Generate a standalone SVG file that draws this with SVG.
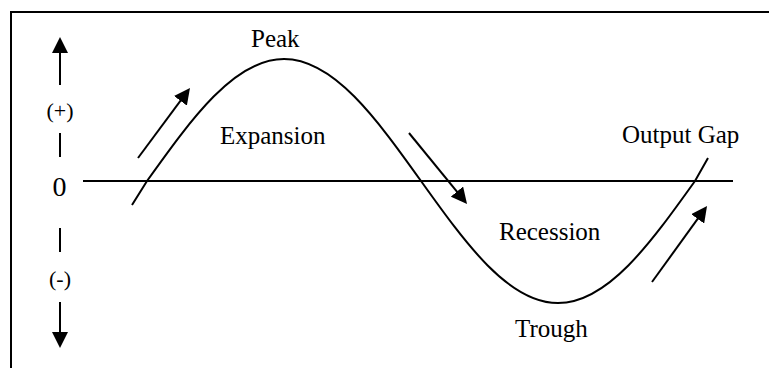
<svg xmlns="http://www.w3.org/2000/svg" width="769" height="368" viewBox="0 0 769 368">
<style>
.ln{fill:none;stroke:#000;stroke-width:2}
text{font-family:'Liberation Serif','Times New Roman',Tinos,'DejaVu Serif',serif;fill:#000}
.t{font-size:25px}
.s{font-size:22px}
</style>
<defs>
<marker id="ah" viewBox="0 0 16 16" markerWidth="16" markerHeight="16" markerUnits="userSpaceOnUse" refX="12" refY="8" orient="auto">
<path d="M0,0 L16,8 L0,16 z" fill="#000"/>
</marker>
</defs>
<rect width="769" height="368" fill="#fff"/>
<g id="frame">
<path class="ln" d="M11,368 V12 H769"/>
</g>
<g id="axis">
<line class="ln" x1="83" y1="181" x2="733" y2="181"/>
<text x="59.5" y="196" text-anchor="middle" font-family="Liberation Serif, serif" font-size="28">0</text>
<text class="s" x="60" y="118" text-anchor="middle" font-family="Liberation Serif, serif">(+)</text>
<text class="s" x="60" y="286" text-anchor="middle" font-family="Liberation Serif, serif">(-)</text>
<line class="ln" x1="60" y1="133" x2="60" y2="157"/>
<line class="ln" x1="60" y1="228" x2="60" y2="252"/>
</g>
<g id="curve">
<path class="ln" d="M132,205 L147,181 C191.7,118.5 234.4,59 284,59 C333.6,59 376.3,118.5 421,181 C465.7,243.5 508.4,303 558,303 C607.6,303 650.3,243.5 695,181 L708,158"/>
</g>
<g id="labels">
<text class="t" x="251" y="47" font-family="Liberation Serif, serif">Peak</text>
<text class="t" x="220" y="144" font-family="Liberation Serif, serif">Expansion</text>
<text class="t" x="499" y="240" font-family="Liberation Serif, serif">Recession</text>
<text class="t" x="515" y="337" font-family="Liberation Serif, serif">Trough</text>
<text class="t" x="622" y="143" font-family="Liberation Serif, serif">Output Gap</text>
</g>
<g id="connectors">
<line class="ln" x1="60" y1="85" x2="60" y2="41" marker-end="url(#ah)"/>
<line class="ln" x1="60" y1="302" x2="60" y2="344" marker-end="url(#ah)"/>
<line class="ln" x1="138" y1="158" x2="187.6" y2="91.2" marker-end="url(#ah)"/>
<line class="ln" x1="409" y1="133" x2="464.5" y2="200.9" marker-end="url(#ah)"/>
<line class="ln" x1="652" y1="282" x2="704.7" y2="209.2" marker-end="url(#ah)"/>
</g>
</svg>
